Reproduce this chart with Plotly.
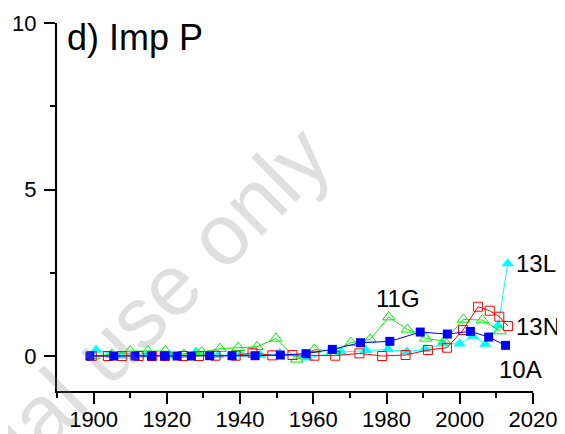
import plotly.graph_objects as go

# ---- data ----
years_10A = [1899, 1905.5, 1911.3, 1915.8, 1919.4, 1922.8, 1926.7, 1931.7, 1937.8, 1944.1,
             1951, 1958, 1965.2, 1972.9, 1980.9, 1989.2, 1996.6, 2002.9, 2007.9, 2012.5]
vals_10A = [0, 0, 0, 0, 0, 0, 0, 0.01, 0.01, 0.01,
            0.03, 0.07, 0.2, 0.4, 0.44, 0.72, 0.66, 0.74, 0.57, 0.32]

years_13N = [1899.5, 1903.9, 1907.8, 1912.3, 1916, 1919.5, 1924.4, 1928.8, 1933.3, 1938.8,
             1943.4, 1948.8, 1954.3, 1960.3, 1966, 1972.6, 1978.8, 1985.2, 1991.3, 1996.5,
             2000.9, 2005, 2008.2, 2010.8, 2013.2]
vals_13N = [0, 0, 0, 0, 0, 0, 0, 0, 0.01, 0.01,
            0.1, 0.02, 0.03, 0.01, 0.01, 0.08, 0.0, 0.03, 0.18, 0.25,
            0.78, 1.48, 1.36, 1.18, 0.9]

years_11G = [1900, 1905, 1910, 1914.8, 1919.6, 1924.7, 1929.5, 1934.5, 1939.5, 1944.6,
             1949.8, 1955.5, 1960.3, 1965.3, 1970.3, 1975.5, 1980.6, 1985.7, 1990.7, 1995.8,
             2001, 2006.2, 2011]
vals_11G = [0, 0.05, 0.15, 0.15, 0.15, 0.05, 0.12, 0.22, 0.25, 0.28,
            0.53, -0.1, 0.2, 0.15, 0.4, 0.5, 1.17, 0.8, 0.53, 0.45,
            1.1, 1.08, 0.75]

years_13L = [1900.7, 1907.5, 1914.5, 1921, 1927.9, 1934, 1940.2, 1945.5, 1950.8, 1958.4,
             1967.6, 1974.4, 1980.4, 1985.6, 1990.5, 1995.4, 2000, 2003.6, 2007, 2010.5, 2013.1]
vals_13L = [0.18, 0.01, 0.03, 0.01, 0.12, 0.02, 0.06, 0.02, 0.08, -0.05,
            0.12, 0.17, 0.2, 0.13, 0.2, 0.37, 0.37, 0.6, 0.36, 0.92, 2.78]

series_names = ["13L", "11G", "13N", "10A"]
x_ticks = [1900, 1920, 1940, 1960, 1980, 2000, 2020]
y_ticks = [0, 5, 10]

FONT = "Arial, Liberation Sans, sans-serif"

fig = go.Figure()
fig.add_trace(go.Scatter(x=years_13L, y=vals_13L, mode="lines+markers", name=series_names[0],
                         line=dict(color="#00FFFF", width=1),
                         marker=dict(symbol="triangle-up", size=11, color="#00FFFF")))
fig.add_trace(go.Scatter(x=years_11G, y=vals_11G, mode="lines+markers", name=series_names[1],
                         line=dict(color="#00F000", width=1),
                         marker=dict(symbol="triangle-up-open", size=11, color="#00F000",
                                     line=dict(width=1))))
fig.add_trace(go.Scatter(x=years_13N, y=vals_13N, mode="lines+markers", name=series_names[2],
                         line=dict(color="#FF0000", width=1),
                         marker=dict(symbol="square-open", size=9, color="#FF0000",
                                     line=dict(width=1))))
fig.add_trace(go.Scatter(x=years_10A, y=vals_10A, mode="lines+markers", name=series_names[3],
                         line=dict(color="#0000FF", width=1),
                         marker=dict(symbol="square", size=9, color="#0000FF")))

ann = [
    dict(text="ial use only", x=0.221, y=0.266, xref="paper", yref="paper", xanchor="center",
         yanchor="middle", textangle=-45, showarrow=False,
         font=dict(size=86, color="rgba(128,128,128,0.25)", family=FONT)),
    dict(text="d) Imp P", x=1892.3, y=9.55, xref="x", yref="y", xanchor="left", yanchor="middle",
         showarrow=False, font=dict(size=36, color="black", family=FONT)),
    dict(text="11G", x=1983.2, y=1.74, xref="x", yref="y", xanchor="center", yanchor="middle",
         showarrow=False, font=dict(size=24, color="black", family=FONT)),
    dict(text="13L", x=2014.9, y=2.79, xref="x", yref="y", xanchor="left", yanchor="middle",
         showarrow=False, font=dict(size=24, color="black", family=FONT)),
    dict(text="13N", x=2014.9, y=0.89, xref="x", yref="y", xanchor="left", yanchor="middle",
         showarrow=False, font=dict(size=24, color="black", family=FONT)),
    dict(text="10A", x=2016.6, y=-0.4, xref="x", yref="y", xanchor="center", yanchor="middle",
         showarrow=False, font=dict(size=24, color="black", family=FONT)),
]

# the page body has an 8px margin, so the figure is 8px smaller and margins compensate
fig.update_layout(
    width=557, height=426,
    margin=dict(l=49, r=32, t=15, b=43, autoexpand=False),
    paper_bgcolor="white", plot_bgcolor="white",
    showlegend=False,
    font=dict(family=FONT, size=22, color="black"),
    annotations=ann,
)
fig.update_xaxes(range=[1890, 2020], tickvals=x_ticks, showgrid=False, zeroline=False,
                 showline=True, linecolor="black", linewidth=2, automargin=False,
                 ticks="outside", ticklen=11, tickwidth=2, tickcolor="black",
                 ticklabelstandoff=-3,
                 tickfont=dict(size=22, family=FONT, color="black"),
                 minor=dict(dtick=10, tick0=1890, ticks="outside", ticklen=5, tickwidth=2,
                            tickcolor="black", showgrid=False))
fig.update_yaxes(range=[-1.05, 10], tickvals=y_ticks, showgrid=False, zeroline=False,
                 showline=True, linecolor="black", linewidth=2, automargin=False,
                 ticks="outside", ticklen=11, tickwidth=2, tickcolor="black",
                 ticklabelstandoff=3,
                 tickfont=dict(size=22, family=FONT, color="black"),
                 minor=dict(dtick=2.5, tick0=0, ticks="outside", ticklen=5, tickwidth=2,
                            tickcolor="black", showgrid=False))

fig.write_html("out.html")
